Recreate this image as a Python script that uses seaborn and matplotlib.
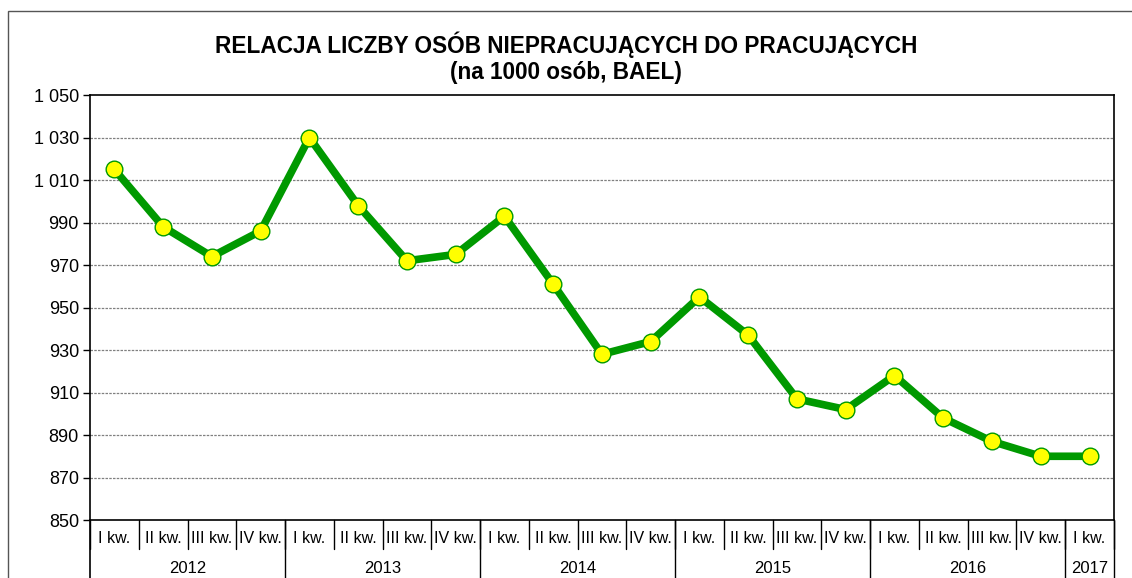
import numpy as np
import pandas as pd
import matplotlib
matplotlib.use("Agg")
import matplotlib.pyplot as plt
import seaborn as sns
from matplotlib.patches import Rectangle

# data
quarters = ["I kw.", "II kw.", "III kw.", "IV kw."] * 5 + ["I kw."]
years = ["2012", "2013", "2014", "2015", "2016", "2017"]
year_sizes = [4, 4, 4, 4, 4, 1]
values = [1015, 988, 974, 986, 1030, 998, 972, 975, 993, 961, 928, 934,
          955, 937, 907, 902, 918, 898, 887, 880, 880]

df = pd.DataFrame({"pos": np.arange(len(values)), "value": values})

sns.set_style("white")
plt.rcParams['font.family'] = ['Liberation Sans', 'DejaVu Sans']
plt.rcParams['text.color'] = 'black'
plt.rcParams['ytick.color'] = 'black'
plt.rcParams['ytick.labelcolor'] = 'black'

fig = plt.figure(figsize=(11.32, 5.78), dpi=100)
ax = fig.add_axes([0.0795, 0.1003, 0.9045, 0.7353])

sns.lineplot(data=df, x="pos", y="value", ax=ax, color="#009900", linewidth=5.5,
             marker="o", markersize=12, markerfacecolor="#ffff00",
             markeredgecolor="#009900", markeredgewidth=1)

ax.set_xlim(-0.5, len(values) - 0.5)
ax.set_ylim(850, 1050)
yt = np.arange(850, 1051, 20)
ax.set_yticks(yt)
ax.set_yticklabels([f"{v:,}".replace(",", " ") for v in yt], fontsize=13)
for v in yt[1:-1]:
    ax.axhline(v, color="#808080", linestyle=(0, (2, 1)), linewidth=0.9, zorder=0)
ax.tick_params(axis="y", direction="out", length=5, width=1, color="black", pad=3, left=True)
ax.set_xticks([])
ax.set_xlabel("")
ax.set_ylabel("")
for s in ax.spines.values():
    s.set_color("black")
    s.set_linewidth(1.2)

# quarter labels and separators
tr = ax.get_xaxis_transform()
for i, q in enumerate(quarters):
    ax.text(i, -0.043, q, transform=tr, ha="center", va="center", fontsize=11.5)
for i in range(len(values) + 1):
    ax.plot([i - 0.5, i - 0.5], [0, -0.068], transform=tr, color="black",
            linewidth=1, clip_on=False)

# year labels and long separators
start = 0
ax.plot([-0.5, -0.5], [0, -0.2], transform=tr, color="black", linewidth=1.2, clip_on=False)
for y, n in zip(years, year_sizes):
    mid = start + (n - 1) / 2
    ax.text(mid, -0.115, y, transform=tr, ha="center", va="center", fontsize=12)
    end = start + n - 0.5
    ax.plot([end, end], [0, -0.2], transform=tr, color="black", linewidth=1, clip_on=False)
    start += n

fig.text(0.5, 0.922, "RELACJA LICZBY OSÓB NIEPRACUJĄCYCH DO PRACUJĄCYCH",
         ha="center", va="center", fontsize=16.3, fontweight="bold")
fig.text(0.5, 0.874, "(na 1000 osób, BAEL)",
         ha="center", va="center", fontsize=16.3, fontweight="bold")

# outer chart border (cut off on right and bottom)
fig.patches.append(Rectangle((8 / 1132, -0.1), 1.2, 1.1 - 11 / 578,
                             transform=fig.transFigure, fill=False,
                             edgecolor="#555555", linewidth=1))

fig.savefig("out.png", dpi=100)
